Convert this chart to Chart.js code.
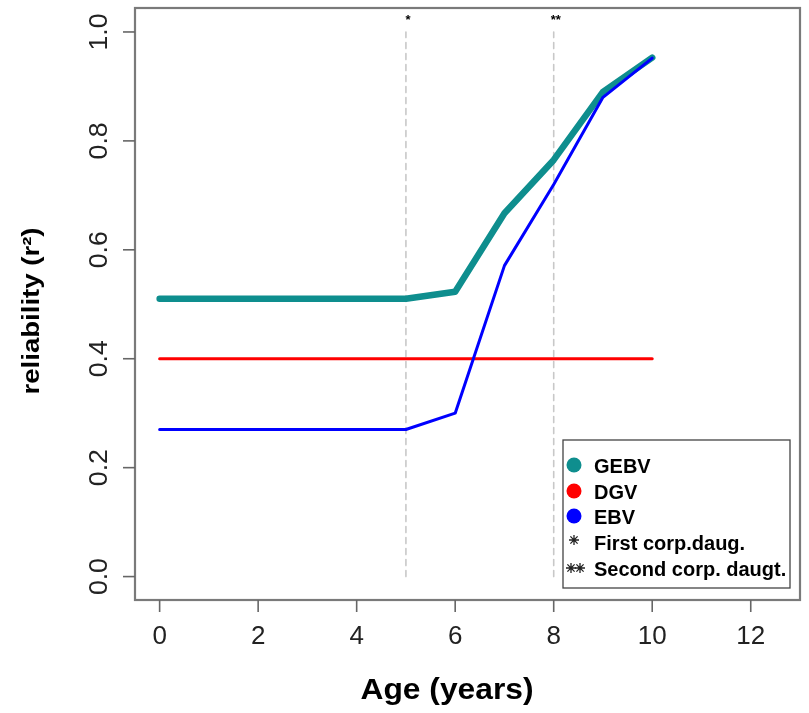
<!DOCTYPE html>
<html>
<head>
<meta charset="utf-8">
<script src="https://cdn.jsdelivr.net/npm/chart.js@4"></script>
<style>
html,body{margin:0;padding:0;background:#fff;}
#wrap{width:809px;height:713px;position:relative;}
</style>
</head>
<body>
<div id="wrap"><canvas id="c" width="809" height="713"></canvas></div>
<script>
const ages = [0, 1, 2, 3, 4, 5, 6, 7, 8, 9, 10];
const gebv = [0.51, 0.51, 0.51, 0.51, 0.51, 0.51, 0.523, 0.667, 0.765, 0.89, 0.953];
const dgv  = [0.40, 0.40, 0.40, 0.40, 0.40, 0.40, 0.40, 0.40, 0.40, 0.40, 0.40];
const ebv  = [0.27, 0.27, 0.27, 0.27, 0.27, 0.27, 0.30, 0.571, 0.72, 0.88, 0.952];
const eventAges = [5, 8];
const eventMarks = ['*', '**'];
const xTicks = [0, 2, 4, 6, 8, 10, 12];
const yTicks = [0.0, 0.2, 0.4, 0.6, 0.8, 1.0];
const yTickLabels = ['0.0', '0.2', '0.4', '0.6', '0.8', '1.0'];
const legendLabels = ['GEBV', 'DGV', 'EBV', 'First corp.daug.', 'Second corp. daugt.'];
const legendSymbols = ['circle', 'circle', 'circle', 'star1', 'star2'];
const colors = { gebv: '#0e8e8e', dgv: '#ff0000', ebv: '#0000ff' };
const legendColors = [colors.gebv, colors.dgv, colors.ebv, '#000', '#000'];

const toPts = (arr) => ages.map((a, i) => ({ x: a, y: arr[i] }));

const datasets = [];
eventAges.forEach(a => {
  datasets.push({
    label: 'ev' + a, data: [{ x: a, y: 0 }, { x: a, y: 1 }],
    borderColor: '#c8c8c8', borderWidth: 1.6, borderDash: [6, 5],
    pointRadius: 0, fill: false, order: 5
  });
});
datasets.push({ label: 'GEBV', data: toPts(gebv), borderColor: colors.gebv, borderWidth: 6.5, pointRadius: 0, order: 3 });
datasets.push({ label: 'DGV', data: toPts(dgv), borderColor: colors.dgv, borderWidth: 3, pointRadius: 0, order: 2 });
datasets.push({ label: 'EBV', data: toPts(ebv), borderColor: colors.ebv, borderWidth: 3, pointRadius: 0, order: 1 });

const FONT = '"Liberation Sans", Arial, Helvetica, sans-serif';

function stretchedText(ctx, text, x, y, targetW, rot) {
  const w = ctx.measureText(text).width;
  const s = targetW ? targetW / w : 1;
  ctx.save();
  ctx.translate(x, y);
  if (rot) ctx.rotate(rot);
  ctx.scale(s, 1);
  ctx.fillText(text, 0, 0);
  ctx.restore();
}

function star(ctx, cx, cy, r) {
  ctx.beginPath();
  ctx.moveTo(cx - r, cy); ctx.lineTo(cx + r, cy);
  ctx.moveTo(cx, cy - r); ctx.lineTo(cx, cy + r);
  const d = r * 0.72;
  ctx.moveTo(cx - d, cy - d); ctx.lineTo(cx + d, cy + d);
  ctx.moveTo(cx - d, cy + d); ctx.lineTo(cx + d, cy - d);
  ctx.stroke();
}

const rStyle = {
  id: 'rStyle',
  afterDatasetsDraw(chart) {
    const ctx = chart.ctx;
    const a = chart.chartArea;
    const xs = chart.scales.x, ys = chart.scales.y;
    ctx.save();
    // box
    ctx.strokeStyle = '#7a7a7a';
    ctx.lineWidth = 2.2;
    ctx.strokeRect(a.left, a.top, a.right - a.left, a.bottom - a.top);
    // x ticks
    ctx.strokeStyle = '#666';
    ctx.lineWidth = 1.6;
    ctx.fillStyle = '#222';
    ctx.font = '26px ' + FONT;
    ctx.textAlign = 'center';
    ctx.textBaseline = 'middle';
    xTicks.forEach(t => {
      const px = xs.getPixelForValue(t);
      ctx.beginPath(); ctx.moveTo(px, a.bottom); ctx.lineTo(px, a.bottom + 12); ctx.stroke();
      ctx.fillText(String(t), px, 637);
    });
    // y ticks
    yTicks.forEach((t, i) => {
      const py = ys.getPixelForValue(t);
      ctx.beginPath(); ctx.moveTo(a.left, py); ctx.lineTo(a.left - 12, py); ctx.stroke();
      stretchedText(ctx, yTickLabels[i], 100, py, 37, -Math.PI / 2);
    });
    // titles
    ctx.fillStyle = '#000';
    ctx.font = 'bold 29px ' + FONT;
    stretchedText(ctx, 'Age (years)', 447, 691, 173, 0);
    ctx.font = 'bold 23px ' + FONT;
    stretchedText(ctx, 'reliability (r²)', 33, 311, 167, -Math.PI / 2);
    // event marks
    ctx.font = 'bold 13px ' + FONT;
    eventAges.forEach((e, i) => {
      const px = xs.getPixelForValue(e);
      ctx.fillText(eventMarks[i], px + 2, ys.getPixelForValue(1.022));
    });
    // legend
    const lx = 563, ly = 440, lw = 227, lh = 148;
    ctx.fillStyle = '#fff';
    ctx.fillRect(lx, ly, lw, lh);
    ctx.strokeStyle = '#444';
    ctx.lineWidth = 1.3;
    ctx.strokeRect(lx, ly, lw, lh);
    const rowY = [467, 493, 518, 544, 570];
    ctx.textAlign = 'left';
    legendLabels.forEach((lab, i) => {
      const y = rowY[i];
      if (legendSymbols[i] === 'circle') {
        ctx.fillStyle = legendColors[i];
        ctx.beginPath(); ctx.arc(574, y - 2, 7.5, 0, Math.PI * 2); ctx.fill();
      } else {
        ctx.strokeStyle = '#222';
        ctx.lineWidth = 1.3;
        if (legendSymbols[i] === 'star1') {
          star(ctx, 574, y - 4, 5);
        } else {
          star(ctx, 571, y - 2, 5);
          star(ctx, 580, y - 2, 5);
        }
      }
      ctx.fillStyle = '#000';
      ctx.font = 'bold 20px ' + FONT;
      ctx.fillText(lab, 594, y);
    });
    ctx.restore();
  }
};

new Chart(document.getElementById('c'), {
  type: 'line',
  data: { datasets },
  options: {
    responsive: false,
    animation: false,
    devicePixelRatio: 1,
    layout: { padding: { left: 135, top: 8, right: 9, bottom: 113 } },
    plugins: { legend: { display: false }, tooltip: { enabled: false } },
    elements: { line: { tension: 0, borderCapStyle: 'round', borderJoinStyle: 'round' } },
    scales: {
      x: { type: 'linear', min: -0.5, max: 13, display: false },
      y: { type: 'linear', min: -0.043, max: 1.044, display: false }
    }
  },
  plugins: [rStyle]
});
</script>
</body>
</html>
